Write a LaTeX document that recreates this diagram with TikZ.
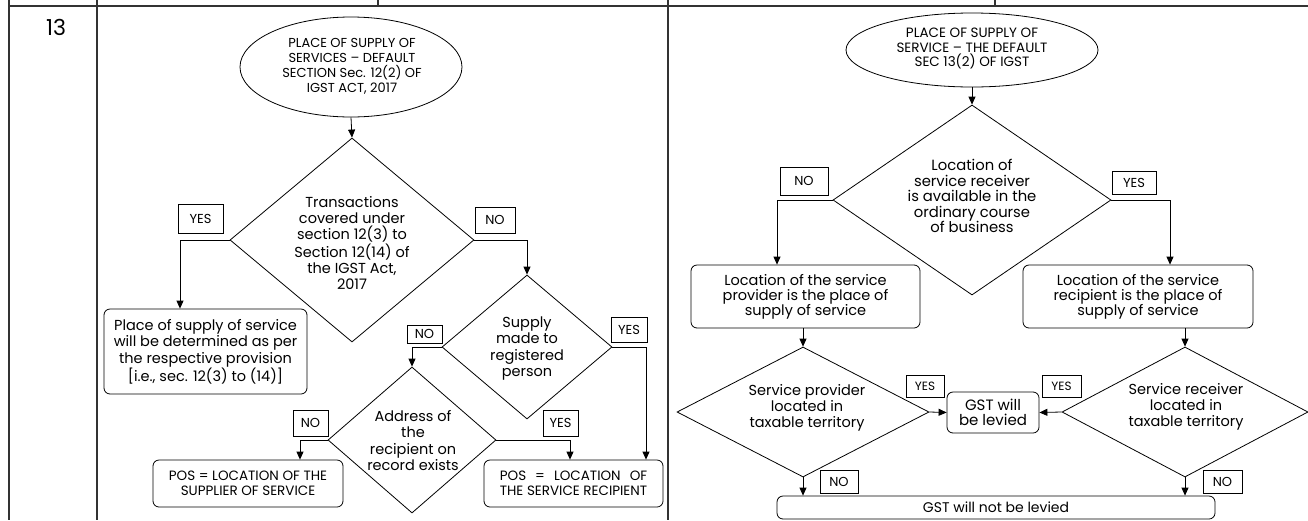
\documentclass[tikz,border=0pt]{standalone}
\usepackage{fontspec}
\setmainfont{Poppins}
\usetikzlibrary{shapes.geometric,arrows.meta,calc}
\newlength\recw
\begin{document}
\begin{tikzpicture}[x=1pt,y=-1pt,
  tbl/.style={line width=1.6pt, draw=black!80},
  arr/.style={line width=0.8pt,-{Triangle[length=8pt,width=7pt]}},
  dia/.style={draw, diamond, inner sep=0pt, line width=0.8pt},
  ell/.style={draw, ellipse, inner sep=0pt, line width=0.8pt},
  box/.style={draw, rounded corners=6pt, inner sep=0pt, line width=0.8pt, align=center, font=\fontsize{14.5}{16.5}\selectfont},
  lab/.style={draw, inner sep=0pt, line width=0.8pt, font=\fontsize{13}{14}\selectfont},
  txt/.style={align=center, inner sep=0pt, font=\fontsize{14.5}{16.2}\selectfont},
  caps/.style={align=center, inner sep=0pt, font=\fontsize{13}{15}\selectfont},
]
\useasboundingbox (0,0) rectangle (1308,520);
% table lines
\draw[tbl] (9,6) -- (1308,6);
\draw[tbl] (9,0) -- (9,520);
\draw[tbl] (97,0) -- (97,520);
\draw[tbl] (668,0) -- (668,520);
\draw[tbl] (378,0) -- (378,6);
\draw[tbl] (995,0) -- (995,6);
\node[font=\fontsize{22}{24}\selectfont] (num) at (56,27) {13};

% ---------- left diagram ----------
\node[ell, minimum width=222pt, minimum height=100pt] (e1) at (351,67) {};
\node[caps] (e1t) at (352,66.5) {PLACE OF SUPPLY OF\\SERVICES -- DEFAULT\\SECTION Sec. 12(2) OF\\IGST ACT, 2017};

\node[dia, minimum width=244pt, minimum height=204pt] (d1) at (352,240) {};
\node[txt] (d1t) at (352,243) {Transactions\\covered under\\section 12(3) to\\Section 12(14) of\\the IGST Act,\\2017};

\node[box, minimum width=203pt, minimum height=85pt] (b1) at (205.5,351.5) {Place of supply of service\\will be determined as per\\the respective provision\\{[i.e., sec. 12(3) to (14)]}};

\node[dia, minimum width=170pt, minimum height=144pt] (d2) at (527,347) {};
\node[txt] (d2t) at (527,348.5) {Supply\\made to\\registered\\person};

\node[dia, minimum width=168pt, minimum height=146pt] (d3) at (412,440) {};
\node[txt] (d3t) at (413,440.5) {Address of\\the\\recipient on\\record exists};

\node[box, minimum width=190pt, minimum height=47pt, font=\fontsize{13.5}{15}\selectfont] (b2) at (248,483.5) {POS = LOCATION OF THE\\SUPPLIER OF SERVICE};
\node[box, minimum width=179pt, minimum height=47pt, font=\fontsize{13.5}{15}\selectfont] (b3) at (573.5,483.5) {\settowidth{\recw}{THE SERVICE RECIPIENT}\makebox[\recw][s]{POS\hfill=\hfill LOCATION\hfill OF}\\THE SERVICE RECIPIENT};

\node[lab, minimum width=45pt, minimum height=29pt] (y1) at (200.5,218.5) {YES};
\node[lab, minimum width=40pt, minimum height=26pt] (n1) at (495,220) {NO};
\node[lab, minimum width=35pt, minimum height=18pt] (n2) at (424.5,334) {NO};
\node[lab, minimum width=36pt, minimum height=25pt] (y2) at (629,329.5) {YES};
\node[lab, minimum width=35pt, minimum height=26pt] (n3) at (310.5,423) {NO};
\node[lab, minimum width=35pt, minimum height=26pt] (y3) at (560.5,423) {YES};

\draw[arr] (e1.south) -- (d1.north);
\draw[arr] (d1.west) -| ($(b1.north)+(-25.5,0)$);
\draw[arr] (d1.east) -| (d2.north);
\draw[arr] (d2.west) -| (d3.north);
\draw[arr] (d3.west) -| ($(b2.north)+(52,0)$);
\draw[arr] (d3.east) -| ($(b3.north)+(-3.5,0)$);
\draw[arr] (d2.east) -| ($(b3.north)+(72.5,0)$);

% ---------- right diagram ----------
\node[ell, minimum width=252pt, minimum height=74pt] (e2) at (972,50) {};
\node[caps, font=\fontsize{13.5}{14.5}\selectfont] (e2t) at (972,48.5) {PLACE OF SUPPLY OF\\SERVICE -- THE DEFAULT\\SEC 13(2) OF IGST};

\node[dia, minimum width=278pt, minimum height=190pt] (d4) at (972,200) {};
\node[txt, font=\fontsize{14.8}{15.5}\selectfont] (d4t) at (972,196) {Location of\\service receiver\\is available in the\\ordinary course\\of business};

\node[box, minimum width=229pt, minimum height=63pt, font=\fontsize{14.5}{15}\selectfont] (b4) at (805.5,296.5) {Location of the service\\provider is the place of\\supply of service};
\node[box, minimum width=230pt, minimum height=63pt, font=\fontsize{14.5}{15}\selectfont] (b5) at (1138,296.5) {Location of the service\\recipient is the place of\\supply of service};

\node[dia, minimum width=252pt, minimum height=130pt] (d5) at (803,412) {};
\node[txt] (d5t) at (807,408) {Service provider\\located in\\taxable territory};
\node[dia, minimum width=246pt, minimum height=130pt] (d6) at (1185,412) {};
\node[txt] (d6t) at (1186,407) {Service receiver\\located in\\taxable territory};

\node[box, minimum width=92pt, minimum height=41pt, font=\fontsize{15}{15.5}\selectfont] (b6) at (993,412.5) {GST will\\be levied};
\node[box, minimum width=438pt, minimum height=23pt, font=\fontsize{14}{14}\selectfont] (b7) at (996,507.5) {GST will not be levied};

\node[lab, minimum width=48pt, minimum height=28pt] (n4) at (804,181) {NO};
\node[lab, minimum width=44pt, minimum height=23pt] (y4) at (1134,182.5) {YES};
\node[lab, minimum width=38pt, minimum height=22pt, font=\fontsize{12}{12}\selectfont] (y5) at (925,386) {YES};
\node[lab, minimum width=39pt, minimum height=22pt, font=\fontsize{12}{12}\selectfont] (y6) at (1061.5,386) {YES};
\node[lab, minimum width=38pt, minimum height=23pt] (n5) at (839,481.5) {NO};
\node[lab, minimum width=39pt, minimum height=23pt] (n6) at (1222.5,481.5) {NO};

\draw[arr] (e2.south) -- (d4.north);
\draw[arr] (d4.west) -| ($(b4.north)+(-28.5,0)$);
\draw[arr] (d4.east) -| ($(b5.north)+(32,0)$);
\draw[arr] (d5.north |- b4.south) -- (d5.north);
\draw[arr] (d6.north |- b5.south) -- (d6.north);
\draw[arr] (d5.east) -- (b6.west);
\draw[arr] (d6.west) -- (b6.east);
\draw[arr] (d5.south) -- (d5.south |- b7.north);
\draw[arr] (d6.south) -- (d6.south |- b7.north);
\end{tikzpicture}
\end{document}
